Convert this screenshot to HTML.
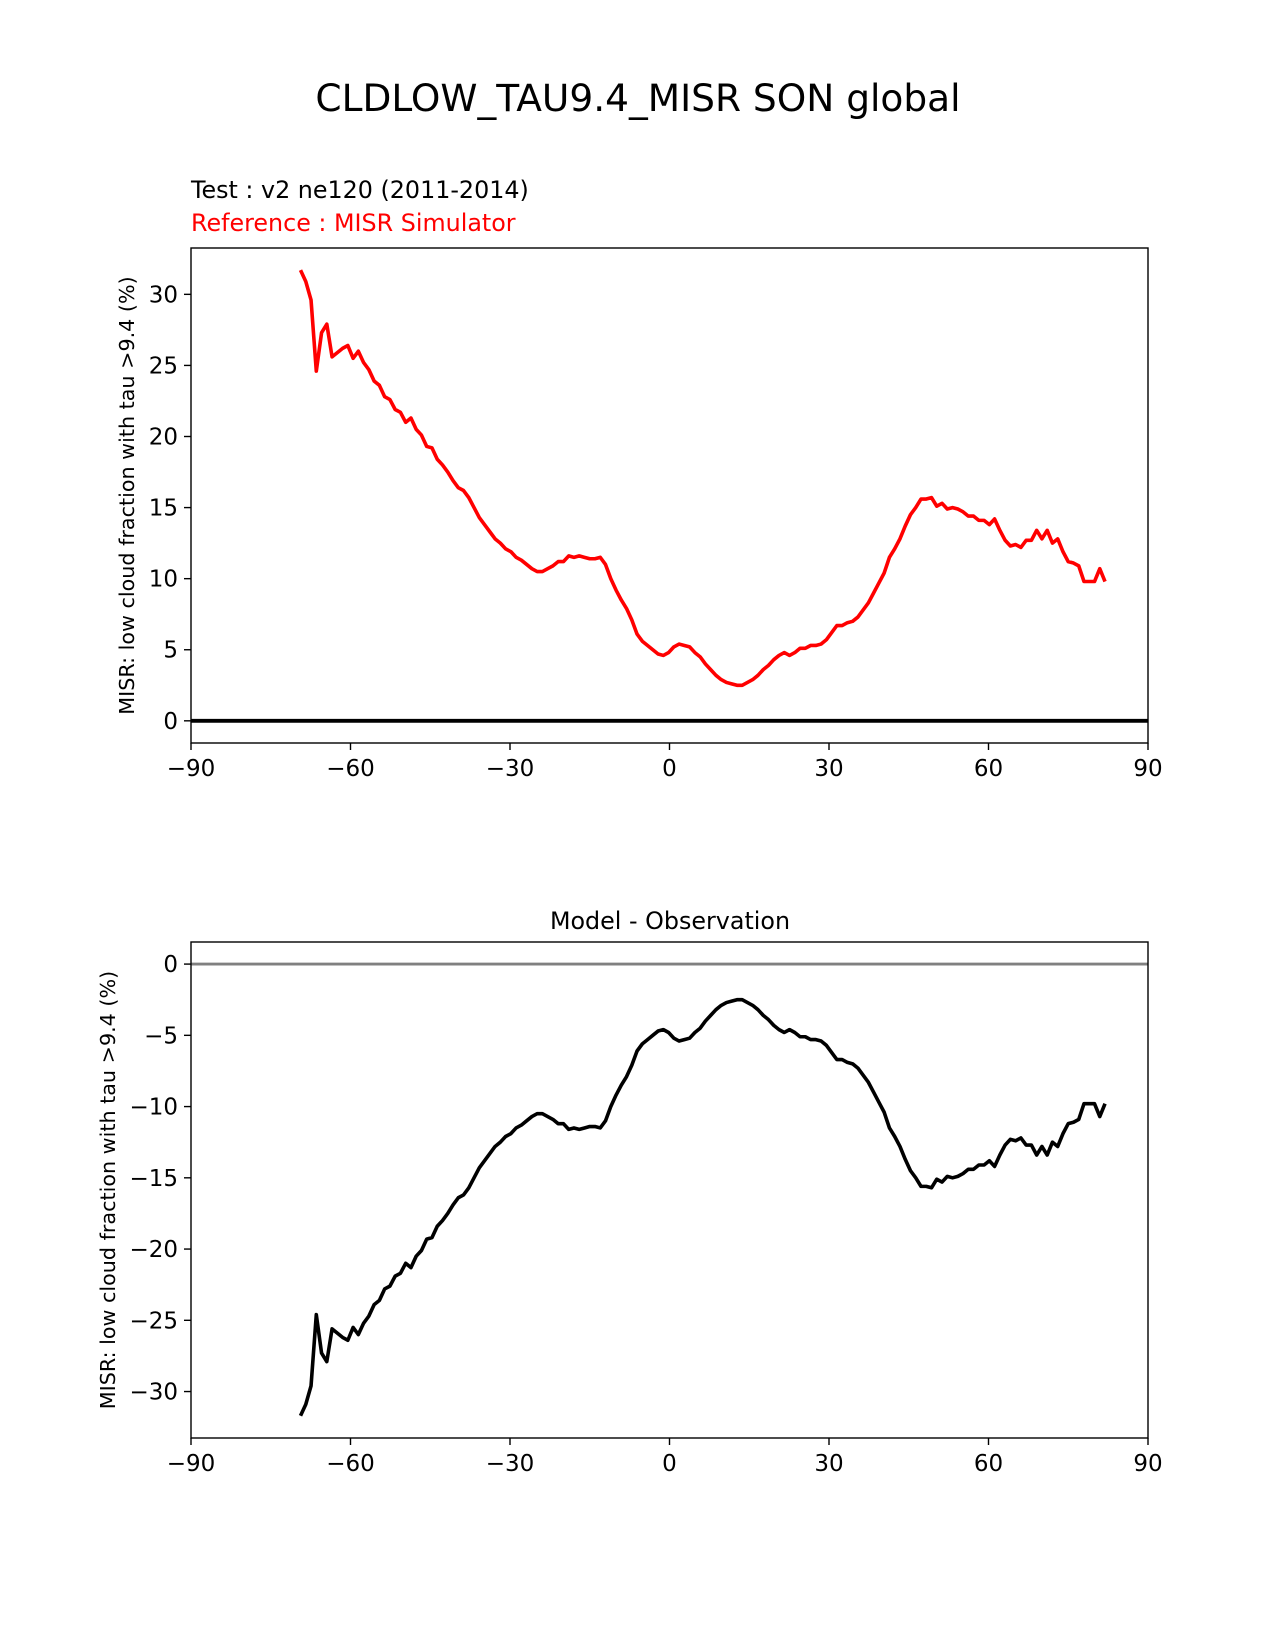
<!DOCTYPE html>
<html><head><meta charset="utf-8"><style>
body{margin:0;background:#fff}
svg{display:block;font-family:"DejaVu Sans","Liberation Sans",sans-serif}
</style></head><body>
<svg id="fig" width="1275" height="1650" viewBox="0 0 1275 1650">
<rect width="1275" height="1650" fill="#fff"/>
<text x="638" y="111" font-size="37.5" text-anchor="middle">CLDLOW_TAU9.4_MISR SON global</text>
<text x="191" y="198" font-size="23.8">Test : v2 ne120 (2011-2014)</text>
<text x="191" y="231" font-size="23.8" fill="#ff0000">Reference : MISR Simulator</text>
<text x="670" y="929" font-size="23.8" text-anchor="middle">Model - Observation</text>
<g id="top"></g>
<g id="bot"></g>
</svg>
<script>
const latStart = -69.4;
const latStep = 0.989;
const xTicks = [-90, -60, -30, 0, 30, 60, 90];
const xTickLabels = ["\u221290", "\u221260", "\u221230", "0", "30", "60", "90"];
const topYTicks = [0, 5, 10, 15, 20, 25, 30];
const topYTickLabels = ["0", "5", "10", "15", "20", "25", "30"];
const botYTicks = [0, -5, -10, -15, -20, -25, -30];
const botYTickLabels = ["0", "\u22125", "\u221210", "\u221215", "\u221220", "\u221225", "\u221230"];
const refValues = [31.7,30.9,29.6,24.6,27.3,27.9,25.6,25.9,26.2,26.4,25.5,26.0,25.2,24.7,23.9,23.6,22.8,22.6,21.9,21.7,21.0,21.3,20.5,20.1,19.3,19.2,18.4,18.0,17.5,16.9,16.4,16.2,15.7,15.0,14.3,13.8,13.3,12.8,12.5,12.1,11.9,11.5,11.3,11.0,10.7,10.5,10.5,10.7,10.9,11.2,11.2,11.6,11.5,11.6,11.5,11.4,11.4,11.5,11.0,10.0,9.2,8.5,7.9,7.1,6.1,5.6,5.3,5.0,4.7,4.6,4.8,5.2,5.4,5.3,5.2,4.8,4.5,4.0,3.6,3.2,2.9,2.7,2.6,2.5,2.5,2.7,2.9,3.2,3.6,3.9,4.3,4.6,4.8,4.6,4.8,5.1,5.1,5.3,5.3,5.4,5.7,6.2,6.7,6.7,6.9,7.0,7.3,7.8,8.3,9.0,9.7,10.4,11.5,12.1,12.8,13.7,14.5,15.0,15.6,15.6,15.7,15.1,15.3,14.9,15.0,14.9,14.7,14.4,14.4,14.1,14.1,13.8,14.2,13.4,12.7,12.3,12.4,12.2,12.7,12.7,13.4,12.8,13.4,12.5,12.8,11.9,11.2,11.1,10.9,9.8,9.8,9.8,10.7,9.8];
const testValues = refValues.map(() => 0);
const diffValues = refValues.map((v, i) => testValues[i] - v);
const lats = refValues.map((v, i) => latStart + latStep * i);

const NS = "http://www.w3.org/2000/svg";
function mk(tag, attrs, parent) {
  const e = document.createElementNS(NS, tag);
  for (const k in attrs) e.setAttribute(k, attrs[k]);
  parent.appendChild(e);
  return e;
}
function drawAxes(g, cfg) {
  const L = 191, R = 1148;
  const xs = v => L + (v + 90) * (R - L) / 180;
  const ys = v => cfg.top + (cfg.ymax - v) * (cfg.bottom - cfg.top) / (cfg.ymax - cfg.ymin);
  const zl = mk("line", {x1: L, x2: R, y1: ys(0), y2: ys(0), stroke: cfg.zeroColor, "stroke-width": cfg.zeroWidth}, g);
  
  
  const d = cfg.values.map((v, i) => (i ? "L" : "M") + xs(lats[i]).toFixed(2) + "," + ys(v).toFixed(2)).join("");
  const p = mk("path", {d: d, fill: "none", stroke: cfg.color, "stroke-width": 3.6, "stroke-linejoin": "round"}, g);
  
  
  const fr = mk("rect", {x: L, y: cfg.top, width: R - L, height: cfg.bottom - cfg.top, fill: "none", stroke: "#000", "stroke-width": 1.4}, g);
  
  
  xTicks.forEach((t, i) => {
    const x = xs(t);
    const tk = mk("line", {x1: x, x2: x, y1: cfg.bottom, y2: cfg.bottom + 7, stroke: "#000", "stroke-width": 1.4}, g);
    
    
    const tl = mk("text", {x: x, y: cfg.bottom + 33, "font-size": 23, "text-anchor": "middle"}, g);
    tl.textContent = xTickLabels[i];
    
    
  });
  cfg.yTicks.forEach((t, i) => {
    const y = ys(t);
    const tk = mk("line", {x1: L - 7, x2: L, y1: y, y2: y, stroke: "#000", "stroke-width": 1.4}, g);
    
    
    const tl = mk("text", {x: L - 13, y: y + 8, "font-size": 23, "text-anchor": "end"}, g);
    tl.textContent = cfg.yTickLabels[i];
    
    
  });
  const cy = (cfg.top + cfg.bottom) / 2;
  const yl = mk("text", {x: cfg.ylabelX, y: cy, "font-size": 20.7, "text-anchor": "middle", transform: "rotate(-90 " + cfg.ylabelX + " " + cy + ")"}, g);
  yl.textContent = "MISR: low cloud fraction with tau >9.4 (%)";
  
  
}
drawAxes(document.getElementById("top"), {top: 248, bottom: 743, ymin: -1.56, ymax: 33.26, values: refValues, color: "#ff0000", seriesName: "reference-line", zeroColor: "#000", zeroWidth: 3.8, yTicks: topYTicks, yTickLabels: topYTickLabels, ylabelX: 134});
drawAxes(document.getElementById("bot"), {top: 942, bottom: 1438, ymin: -33.26, ymax: 1.55, values: diffValues, color: "#000", seriesName: "difference-line", zeroColor: "#808080", zeroWidth: 2.8, yTicks: botYTicks, yTickLabels: botYTickLabels, ylabelX: 115});
</script>
</body></html>
